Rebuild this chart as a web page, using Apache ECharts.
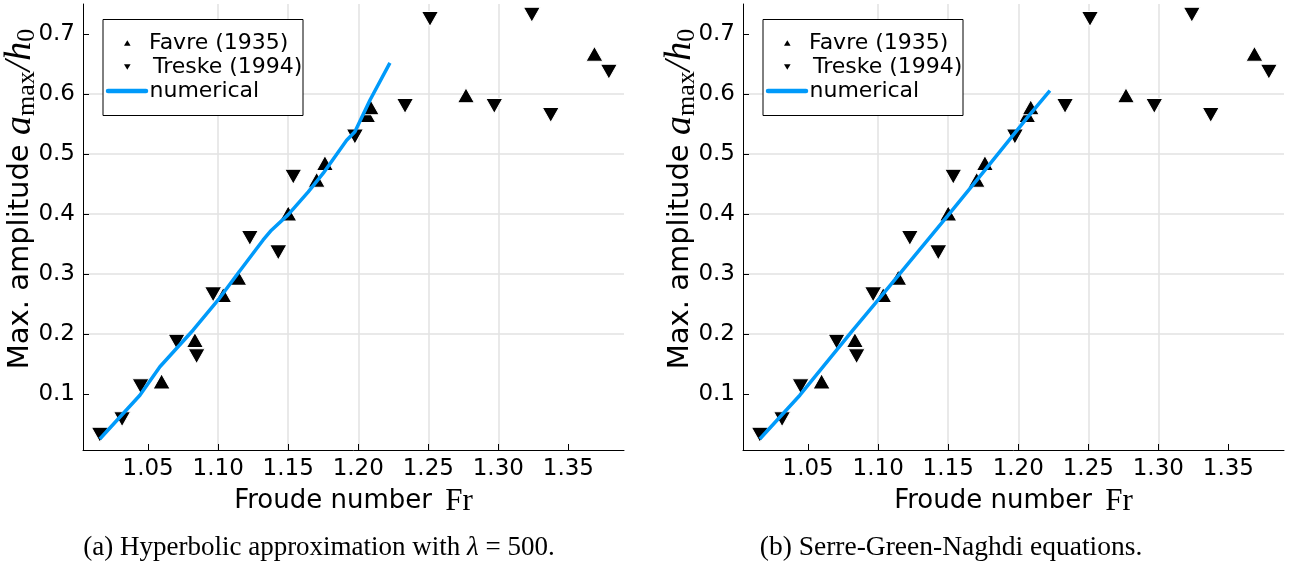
<!DOCTYPE html>
<html><head><meta charset="utf-8">
<script src="https://cdn.jsdelivr.net/npm/echarts@6/dist/echarts.min.js"></script>
<style>html,body{margin:0;padding:0;background:#fff}#c{width:1292px;height:565px}</style>
</head><body><div id="c"></div>
<script>
// Froude number / amplitude data
const favreFr  = [1.0596, 1.0834, 1.1036, 1.1143, 1.1500, 1.1703, 1.1762, 1.2064, 1.2089, 1.2769, 1.3686];
const favreAmp = [0.121, 0.190, 0.265, 0.294, 0.401, 0.457, 0.485, 0.565, 0.578, 0.598, 0.667];
const treskeFr  = [1.0155, 1.0314, 1.0446, 1.0703, 1.0846, 1.0964, 1.1226, 1.1429, 1.1536, 1.1976, 1.2334, 1.2512, 1.2971, 1.3239, 1.3374, 1.3789];
const treskeAmp = [0.032, 0.058, 0.113, 0.187, 0.163, 0.266, 0.360, 0.336, 0.462, 0.529, 0.580, 0.725, 0.580, 0.732, 0.565, 0.637];
const hypFr  = [1.0155, 1.0441, 1.0584, 1.0822, 1.1000, 1.1131, 1.1321, 1.1380, 1.1500, 1.1643, 1.1750, 1.1917, 1.1976, 1.2084, 1.2226];
const hypAmp = [0.025, 0.098, 0.1455, 0.2067, 0.2567, 0.298, 0.3567, 0.373, 0.399, 0.437, 0.468, 0.523, 0.537, 0.590, 0.652];
const sgnFr  = [1.0155, 1.0441, 1.0821, 1.1000, 1.1429, 1.1500, 1.1762, 1.2060, 1.2226];
const sgnAmp = [0.025, 0.098, 0.2067, 0.2567, 0.378, 0.398, 0.473, 0.5595, 0.6055];
const xTicks = [1.05, 1.10, 1.15, 1.20, 1.25, 1.30, 1.35];
const yTicks = [0.1, 0.2, 0.3, 0.4, 0.5, 0.6, 0.7];
const legendNames = ['Favre (1935)', 'Treske (1994)', 'numerical'];
const captions = ['(a) Hyperbolic approximation with ', '(b) Serre-Green-Naghdi equations.'];

const zip = (a, b) => a.map((v, i) => [v, b[i]]);
const SANS = 'DejaVu Sans', SERIF = 'Liberation Serif';
const BLUE = '#009AFA';
const panels = [
  {left: 83, line: zip(hypFr, hypAmp)},
  {left: 743, line: zip(sgnFr, sgnAmp)}
];

const grids = [], xAxes = [], yAxes = [], series = [], graphics = [];
panels.forEach((p, i) => {
  grids.push({left: p.left, top: 4, width: 541, height: 446, containLabel: false});
  xAxes.push({
    gridIndex: i, type: 'value', min: 1.0035, max: 1.3897, splitNumber: 8,
    axisLine: {onZero: false, lineStyle: {color: '#000', width: 1}},
    axisTick: {inside: true, length: 6, customValues: xTicks, lineStyle: {color: '#000', width: 1}},
    axisLabel: {customValues: xTicks, formatter: v => v.toFixed(2), fontFamily: SANS, fontSize: 23, color: '#000', margin: 8},
    splitLine: {show: true, showMinLine: false, showMaxLine: false, lineStyle: {color: '#e2e2e2', width: 1.5}},
    name: '{s|Froude number }{m|Fr}', nameLocation: 'middle', nameGap: 31,
    nameTextStyle: {rich: {s: {fontFamily: SANS, fontSize: 26, color: '#000'}, m: {fontFamily: SERIF, fontSize: 31, color: '#000', padding: [0, 0, 0, 5]}}}
  });
  yAxes.push({
    gridIndex: i, type: 'value', min: 0.00667, max: 0.75, splitNumber: 7,
    axisLine: {onZero: false, lineStyle: {color: '#000', width: 1}},
    axisTick: {inside: true, length: 6, customValues: yTicks, lineStyle: {color: '#000', width: 1}},
    axisLabel: {customValues: yTicks, formatter: v => v.toFixed(1), fontFamily: SANS, fontSize: 23, color: '#000', margin: 8},
    splitLine: {show: true, showMinLine: false, showMaxLine: false, lineStyle: {color: '#e2e2e2', width: 1.5}}
  });
  series.push({
    name: legendNames[0], type: 'scatter', xAxisIndex: i, yAxisIndex: i,
    data: zip(favreFr, favreAmp), symbol: 'triangle', symbolSize: [17, 15],
    itemStyle: {color: '#000', borderColor: '#fff', borderWidth: 1, opacity: 1}, z: 3
  });
  series.push({
    name: legendNames[1], type: 'scatter', xAxisIndex: i, yAxisIndex: i,
    data: zip(treskeFr, treskeAmp), symbol: 'triangle', symbolRotate: 180, symbolSize: [17, 15],
    itemStyle: {color: '#000', borderColor: '#fff', borderWidth: 1, opacity: 1}, z: 4
  });
  series.push({
    name: legendNames[2], type: 'line', xAxisIndex: i, yAxisIndex: i,
    data: p.line, showSymbol: false, symbol: 'none', smooth: false,
    lineStyle: {color: BLUE, width: 3.5}, z: 5
  });

  const dx = p.left - 83;
  // legend box
  graphics.push({type: 'rect', x: 103 + dx, y: 19.5, shape: {x: 0, y: 0, width: 200, height: 96},
    style: {fill: '#fff', stroke: '#000', lineWidth: 1}, z: 100});
  graphics.push({type: 'polygon', shape: {points: [[124 + dx, 45.8], [130.6 + dx, 45.8], [127.3 + dx, 40.3]]}, style: {fill: '#000'}, z: 101});
  graphics.push({type: 'polygon', shape: {points: [[124 + dx, 64.2], [130.6 + dx, 64.2], [127.3 + dx, 69.7]]}, style: {fill: '#000'}, z: 101});
  graphics.push({type: 'line', shape: {x1: 108 + dx, y1: 91, x2: 146 + dx, y2: 91}, style: {stroke: BLUE, lineWidth: 4.5, lineCap: 'round'}, z: 101});
  const lx = [149, 153, 149.5], ly = [43.5, 67.3, 91];
  legendNames.forEach((n, k) => graphics.push({type: 'text', x: lx[k] + dx, y: ly[k], z: 101,
    style: {text: n, fontFamily: SANS, fontSize: 22, fill: '#000', align: 'left', verticalAlign: 'middle'}}));
  // y axis title (rotated)
  graphics.push({type: 'text', x: 20 + dx, y: 199, rotation: Math.PI / 2, z: 101,
    style: {text: '{s|Max. amplitude }{m|a}{sub|max}{m|/h}{sub|0}', align: 'center', verticalAlign: 'middle',
      rich: {
        s: {fontFamily: SANS, fontSize: 29, fill: '#000', lineHeight: 40},
        m: {fontFamily: SERIF, fontStyle: 'italic', fontSize: 38, fill: '#000', lineHeight: 40},
        sub: {fontFamily: SERIF, fontSize: 26, fill: '#000', verticalAlign: 'bottom', lineHeight: 26}
      }}});
});
// captions
graphics.push({type: 'text', x: 319, y: 548, z: 101,
  style: {text: '{t|' + captions[0] + '}{i|λ}{t| = 500.}', align: 'center', verticalAlign: 'middle',
    rich: {t: {fontFamily: SERIF, fontSize: 27, fill: '#000'}, i: {fontFamily: SERIF, fontStyle: 'italic', fontSize: 27, fill: '#000'}}}});
graphics.push({type: 'text', x: 951, y: 548, z: 101,
  style: {text: captions[1], fontFamily: SERIF, fontSize: 27.5, fill: '#000', align: 'center', verticalAlign: 'middle'}});

const chart = echarts.init(document.getElementById('c'), null, {renderer: 'canvas', width: 1292, height: 565});
chart.setOption({
  animation: false, backgroundColor: '#fff',
  grid: grids, xAxis: xAxes, yAxis: yAxes, series: series, graphic: graphics
});
</script></body></html>
